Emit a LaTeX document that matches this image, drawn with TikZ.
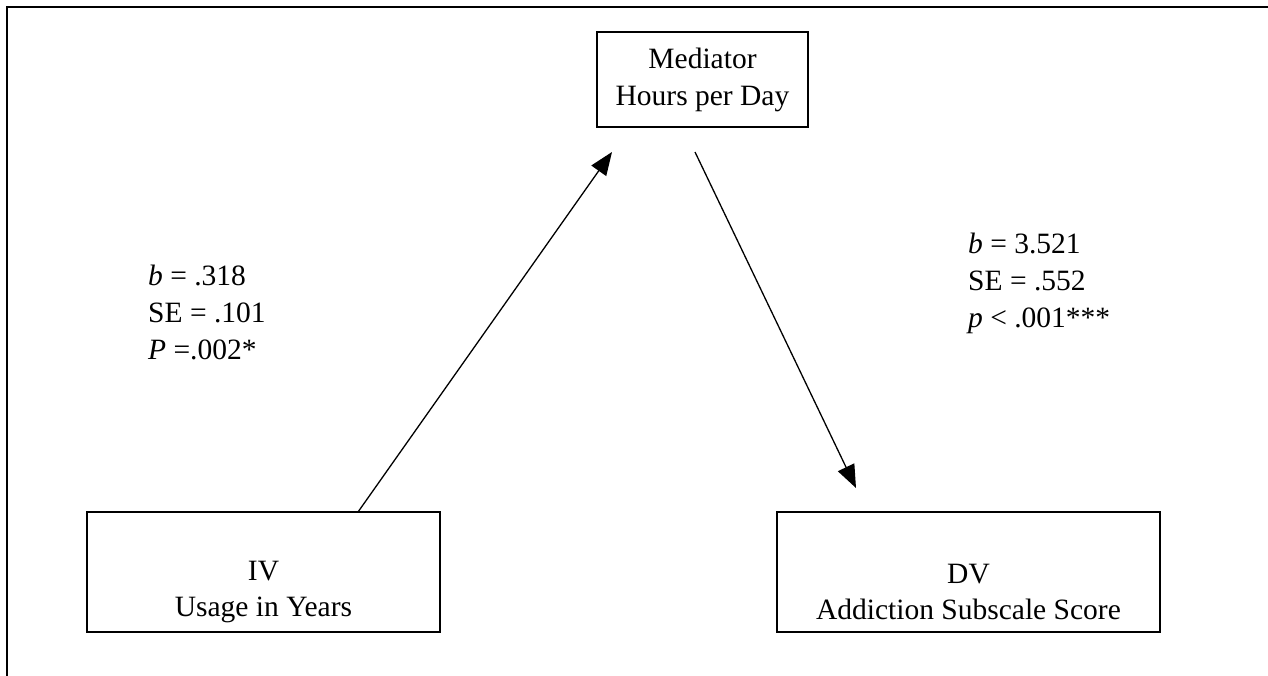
\documentclass[tikz,border=0pt]{standalone}
\usepackage{fontspec}
\setmainfont{Liberation Serif}
\usetikzlibrary{arrows.meta}
\begin{document}
\begin{tikzpicture}[x=1pt,y=-1pt,
  box/.style={draw, line width=1.8pt, inner sep=0pt},
  txt/.style={align=center, inner sep=0pt, font=\fontsize{29.5}{36.5}\selectfont},
  stat/.style={align=left, inner sep=0pt, anchor=north west, font=\fontsize{29.5}{37}\selectfont},
  conn/.style={line width=1.3pt, -{Triangle[length=23pt,width=18pt]}}]
\useasboundingbox (0,0) rectangle (1268,675);
\draw[line width=1.8pt] (7,680) -- (7,7) -- (1275,7);
% boxes
\node[box, minimum width=211, minimum height=95] (med) at (702.5,79.5) {};
\node[txt] (medtext) at (702.5,80) {Mediator\\Hours per Day};
\node[box, minimum width=353, minimum height=120] (iv) at (263.5,572) {};
\node[txt] (ivtext) at (263.5,592) {IV\\Usage in Years};
\node[box, minimum width=383, minimum height=120] (dv) at (968.5,572) {};
\node[txt] (dvtext) at (968.5,592) {DV\\Addiction Subscale Score};
% arrow end points
\coordinate (a1s) at (358,512);
\coordinate (a1e) at (612,152);
\coordinate (a2s) at (695,152);
\coordinate (a2e) at (856,488);
\draw[conn] (a1s) -- (a1e);
\draw[conn] (a2s) -- (a2e);
% stats
\node[stat] (s1) at (148,265) {\textit{b} = .318\\SE = .101\\\textit{P} =.002*};
\node[stat] (s2) at (968,233) {\textit{b} = 3.521\\SE = .552\\\textit{p} {\textless} .001***};
\end{tikzpicture}
\end{document}
